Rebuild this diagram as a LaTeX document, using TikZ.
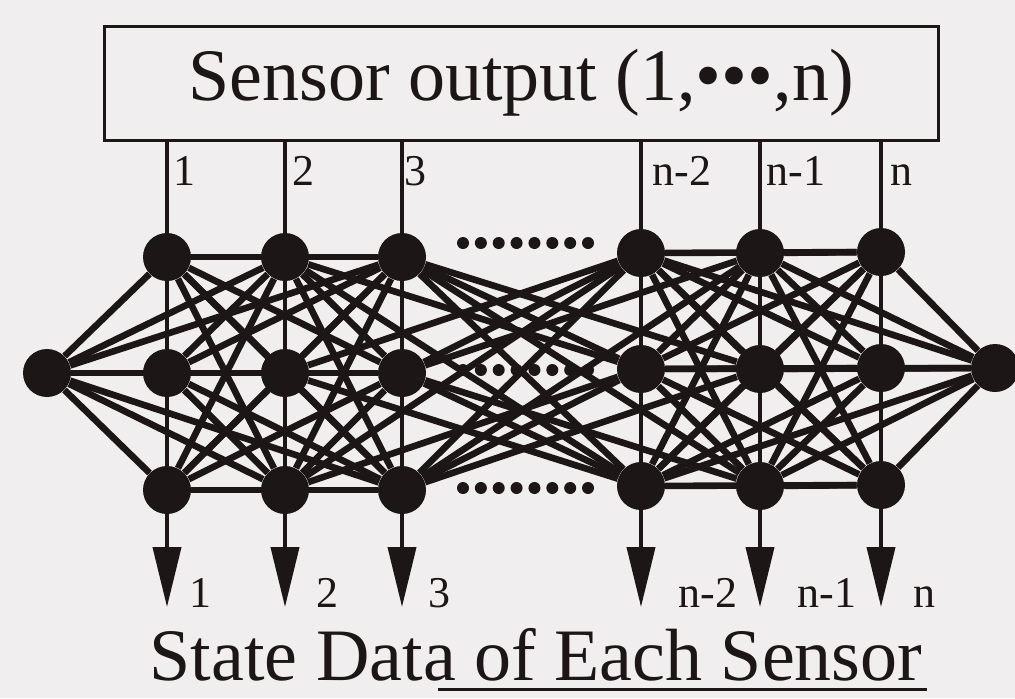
\documentclass[tikz,border=0pt]{standalone}
\usepackage{fontspec}
\setmainfont{Liberation Serif}
\usepackage{xcolor}
\usetikzlibrary{arrows.meta,backgrounds}
\definecolor{ink}{RGB}{28,22,22}
\definecolor{paper}{RGB}{240,238,238}

\begin{document}
\begin{tikzpicture}[x=0.5pt, y=-0.5pt,
  neuron/.style={circle, fill=ink, inner sep=0pt, minimum size=24pt},
  link/.style={line width=3.3pt, ink},
  wire/.style={line width=2pt, ink},
  arrow/.style={wire, -{Triangle[length=30pt,width=14pt]}},
  small/.style={font=\fontsize{22}{22}\selectfont, text=ink, inner sep=0pt},
  big/.style={font=\fontsize{37}{40}\selectfont, text=ink}
]
\useasboundingbox (0,0) rectangle (1015,698);

\node[draw=ink, line width=1.5pt, minimum width=417pt, minimum height=57pt, big] (sensor) at (521,83) {Sensor output (1,•••,n)};

% neurons
\node[neuron] (L) at (47,373) {};
\node[neuron] (R) at (995,368) {};
\foreach \c/\x/\d in {1/167/0, 2/285/0, 3/402/0, 4/641/-4, 5/760/-4, 6/881/-5} {
  \foreach \r/\y in {1/257, 2/373, 3/490}
    \node[neuron] (n\c\r) at (\x,\y+\d) {};
  \coordinate (t\c) at (\x,607);
}

% dotted gaps
\foreach \y in {243, 370, 488}
  \foreach \k in {0,...,7}
    \fill[ink] (463+\k*17.86,\y) circle[radius=3pt];

\begin{scope}[on background layer]
  \fill[paper] (0,0) rectangle (1015,698);
  \foreach \c in {1,...,6}
    \draw[arrow] (sensor.south -| t\c) -- (t\c);
  \foreach \a in {1,...,5} {
    \pgfmathtruncatemacro\b{\a+1}
    \pgfmathtruncatemacro\e{min(\a+2,6)}
    \foreach \bb in {\b,...,\e}
      \foreach \i in {1,2,3}
        \foreach \j in {1,2,3} {
          % no straight links across the gap
          \pgfmathtruncatemacro\skip{(\a<4)&&(\bb>3)&&(\i==\j)}
          \ifnum\skip=0 \draw[link] (n\a\i) -- (n\bb\j);\fi
        }
  }
  \foreach \c in {1,2,3}
    \foreach \r in {1,2,3} {
      \draw[link] (L) -- (n\c\r);
    }
  \foreach \c in {4,5,6}
    \foreach \r in {1,2,3} {
      \draw[link] (R) -- (n\c\r);
    }
\end{scope}

% labels
\foreach \c/\x/\t in {1/173/1, 2/292/2, 3/404/3, 4/652/n-2, 5/766/n-1, 6/890/n}
  \node[small, anchor=base west] (top\c) at (\x,185) {\t};
\foreach \c/\x/\t in {1/200/1, 2/327/2, 3/439/3, 4/708/n-2, 5/827/n-1, 6/924/n}
  \node[small, anchor=base] (bot\c) at (\x,607) {\t};

\node[big, inner sep=0pt, anchor=base] (title) at (536,680) {State Data of Each Sensor};
\draw[ink, line width=1.5pt] (438,689) -- (927,689);
\end{tikzpicture}
\end{document}
